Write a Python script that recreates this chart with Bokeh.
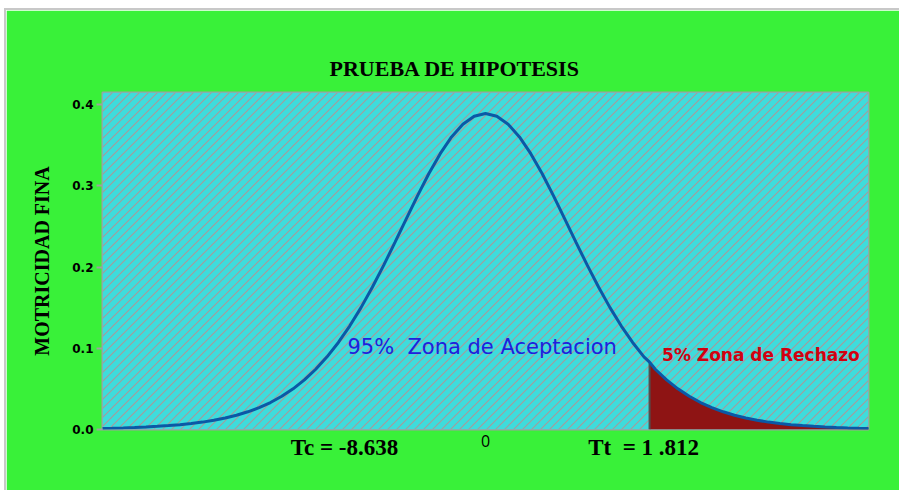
import base64
from bokeh.plotting import figure
from bokeh.models import (Range1d, BoxAnnotation, Label, FixedTicker, ColumnDataSource, Title,
                          ImageURLTexture, LinearAxis)
from bokeh.embed import file_html
from bokeh.resources import INLINE

# ---- data (Student t, 10 d.f.) ----
t_values = [-4.25, -4.125, -4.0, -3.875, -3.75, -3.625, -3.5, -3.375, -3.25, -3.125,
            -3.0, -2.875, -2.75, -2.625, -2.5, -2.375, -2.25, -2.125, -2.0, -1.875,
            -1.75, -1.625, -1.5, -1.375, -1.25, -1.125, -1.0, -0.875, -0.75, -0.625,
            -0.5, -0.375, -0.25, -0.125, 0.0, 0.125, 0.25, 0.375, 0.5, 0.625,
            0.75, 0.875, 1.0, 1.125, 1.25, 1.375, 1.5, 1.625, 1.75, 1.812,
            1.875, 2.0, 2.125, 2.25, 2.375, 2.5, 2.625, 2.75, 2.875, 3.0,
            3.125, 3.25, 3.375, 3.5, 3.625, 3.75, 3.875, 4.0, 4.125, 4.25]
density = [0.0013, 0.0016, 0.0020, 0.0025, 0.0031, 0.0039, 0.0048, 0.0059, 0.0074, 0.0091,
           0.0114, 0.0141, 0.0176, 0.0218, 0.0269, 0.0332, 0.0409, 0.0501, 0.0611, 0.0742,
           0.0895, 0.1072, 0.1274, 0.1501, 0.1751, 0.2021, 0.2304, 0.2593, 0.2880, 0.3152,
           0.3397, 0.3603, 0.3760, 0.3858, 0.3891, 0.3858, 0.3760, 0.3603, 0.3397, 0.3152,
           0.2880, 0.2593, 0.2304, 0.2021, 0.1751, 0.1501, 0.1274, 0.1072, 0.0895, 0.0830,
           0.0742, 0.0611, 0.0501, 0.0409, 0.0332, 0.0269, 0.0218, 0.0176, 0.0141, 0.0114,
           0.0091, 0.0074, 0.0059, 0.0048, 0.0039, 0.0031, 0.0025, 0.0020, 0.0016, 0.0013]
t_critical = 1.812
y_ticks = [0.0, 0.1, 0.2, 0.3, 0.4]
y_tick_labels = ["0.0", "0.1", "0.2", "0.3", "0.4"]

# positions (t) and texts of the marks written under the curve
center_tick = [0.0]
center_tick_label = ["0"]
stat_ticks = [-1.558, 1.746]
stat_tick_labels = ["Tc = -8.638", "Tt\u00a0 = 1 .812"]

title_text = "PRUEBA DE HIPOTESIS"
y_label_text = "MOTRICIDAD FINA"
accept_text = "95%\u00a0 Zona de Aceptacion"
reject_text = "5% Zona de Rechazo"

GREEN = "#39f139"
CYAN = "#3edcdc"
HATCH = "#a39c9c"
CURVE = "#0b58a6"
DARKRED = "#8e1414"

p = figure(width=893, height=480, output_backend="svg", toolbar_location=None,
           x_range=Range1d(-4.23, 4.23), y_range=Range1d(0, 0.415),
           min_border_left=96, min_border_right=31, min_border_top=82, min_border_bottom=61)
p.margin = (10, 0, 0, 6)
p.styles = {"outline": "2px solid #c8c8c8"}
p.border_fill_color = GREEN
p.background_fill_color = CYAN
p.outline_line_color = "#a0a0a0"
p.outline_line_width = 2
p.xgrid.visible = False
p.ygrid.visible = False

p.title = Title(text=title_text, align="left", offset=227, standoff=23, text_font="Liberation Serif",
                text_font_style="bold", text_font_size="22px", text_color="black")

# y axis
p.yaxis.ticker = FixedTicker(ticks=y_ticks)
p.yaxis.major_label_overrides = {t: l for t, l in zip(y_ticks, y_tick_labels)}
p.yaxis.axis_line_color = None
p.yaxis.major_tick_line_color = "#a0a0a0"
p.yaxis.major_tick_line_width = 2
p.yaxis.major_tick_out = 6
p.yaxis.major_tick_in = 0
p.yaxis.minor_tick_line_color = None
p.yaxis.major_label_text_font = "DejaVu Sans"
p.yaxis.major_label_text_font_style = "bold"
p.yaxis.major_label_text_font_size = "12px"
p.yaxis.major_label_text_color = "black"
p.yaxis.major_label_standoff = 3
p.yaxis.axis_label = y_label_text
p.yaxis.axis_label_text_font = "Liberation Serif"
p.yaxis.axis_label_text_font_style = "bold"
p.yaxis.axis_label_text_font_size = "20px"
p.yaxis.axis_label_text_color = "black"
p.yaxis.axis_label_standoff = 16

# x axis: only the "0" mark
xa = p.xaxis[0]
xa.ticker = FixedTicker(ticks=center_tick, minor_ticks=[])
xa.major_label_overrides = {t: l for t, l in zip(center_tick, center_tick_label)}
xa.axis_line_color = None
xa.major_tick_line_color = None
xa.minor_tick_line_color = None
xa.major_tick_out = 0
xa.major_tick_in = 0
xa.major_label_standoff = 5
xa.major_label_text_font = "Open Sans"
xa.major_label_text_font_size = "16px"
xa.major_label_text_color = "black"

# second x axis with the statistic values
xb = LinearAxis(ticker=FixedTicker(ticks=stat_ticks, minor_ticks=[]),
                major_label_overrides={t: l for t, l in zip(stat_ticks, stat_tick_labels)},
                axis_line_color=None, major_tick_line_color=None, minor_tick_line_color=None,
                major_tick_out=0, major_tick_in=0, major_label_standoff=-15,
                major_label_text_font="Liberation Serif", major_label_text_font_style="bold",
                major_label_text_font_size="23px", major_label_text_color="black")
p.add_layout(xb, "below")

tile_svg = ("<svg xmlns='http://www.w3.org/2000/svg' width='9' height='9'>"
            "<path d='M-1,1 L1,-1 M0,9 L9,0 M8,10 L10,8' stroke='%s' stroke-width='1.2'/></svg>" % HATCH)
tile_url = "data:image/svg+xml;base64," + base64.b64encode(tile_svg.encode()).decode()
tex = ImageURLTexture(url=tile_url, repetition="repeat")

bg = BoxAnnotation(fill_color=CYAN, fill_alpha=1.0, line_color=None,
                   hatch_pattern="diag", hatch_extra={"diag": tex}, level="underlay")
p.add_layout(bg)

src = ColumnDataSource(dict(t=t_values, d=density))
rej_t = [t for t in t_values if t >= t_critical]
rej_d = [d for t, d in zip(t_values, density) if t >= t_critical]
p.varea(x=rej_t, y1=[0] * len(rej_t), y2=rej_d, fill_color=DARKRED)
crit_d = density[t_values.index(t_critical)]
p.segment(x0=[t_critical], y0=[0], x1=[t_critical], y1=[crit_d], line_color="#505050", line_width=2)
p.line("t", "d", source=src, line_color=CURVE, line_width=3)

p.add_layout(Label(x=-1.525, y=0.101, text=accept_text, text_align="left", text_baseline="middle",
                   text_font="DejaVu Sans", text_font_size="21px", text_color="#2020dc"))
p.add_layout(Label(x=1.95, y=0.0915, text=reject_text, text_align="left", text_baseline="middle",
                   text_font="DejaVu Sans", text_font_style="bold", text_font_size="17px",
                   text_color="#d20010"))

open("out.html", "w").write(file_html(p, INLINE))
